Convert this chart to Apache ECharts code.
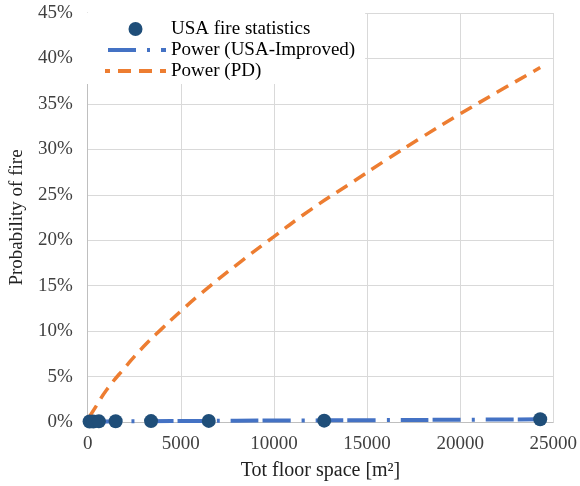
<!DOCTYPE html>
<html>
<head>
<meta charset="utf-8">
<script src="https://cdn.jsdelivr.net/npm/echarts@6/dist/echarts.min.js"></script>
<style>
  html, body { margin: 0; padding: 0; background: #fff; }
  #chart { width: 580px; height: 486px; }
</style>
</head>
<body>
<div id="chart"></div>
<script>
// USA fire statistics (floor space m2, probability %)
const usaFloor = [100, 300, 600, 1500, 3400, 6500, 12700, 24300]
const usaProb = [0.05, 0.06, 0.07, 0.08, 0.1, 0.12, 0.15, 0.3]

// Power fit (USA-Improved)
const improvedFloor = [100, 1000, 3000, 6000, 10000, 15000, 20000, 24300]
const improvedProb = [0.03, 0.06, 0.09, 0.12, 0.16, 0.2, 0.25, 0.3]

// Power fit (PD)
const pdFloor = [100, 500, 1000, 2000, 3000, 4000, 5000, 6000, 8000, 10000, 12000, 14000, 16000, 18000, 20000, 22000, 24300]
const pdProb = [0.6, 1.9, 3.5, 6.0, 8.3, 10.3, 12.2, 14.0, 17.3, 20.4, 23.4, 26.1, 28.8, 31.4, 33.9, 36.3, 39.0]

const FONT = 'Liberation Serif'
const textColor = '#404040'

const chart = echarts.init(document.getElementById('chart'))

chart.setOption({
    animation: false,
    textStyle: { fontFamily: FONT },
    grid: {
        left: 87,
        right: 25,
        top: 13,
        bottom: 62,
    },
    legend: {
        orient: 'vertical',
        left: 87,
        top: 13,
        padding: [6, 10, 3, 16],
        backgroundColor: '#ffffff',
        itemWidth: 61,
        itemHeight: 14,
        itemGap: 1,
        textStyle: {
            fontFamily: FONT,
            fontSize: 19,
            lineHeight: 20,
            color: '#000',
        },
        data: [
            { name: 'USA fire statistics' },
            { name: 'Power (USA-Improved)', itemStyle: { opacity: 0 }, lineStyle: { width: 4 } },
            { name: 'Power (PD)', itemStyle: { opacity: 0 }, lineStyle: { width: 4 } },
        ],
    },
    xAxis: {
        type: 'value',
        min: 0,
        max: 25000,
        interval: 5000,
        name: 'Tot floor space [m²]',
        nameLocation: 'middle',
        nameGap: 39,
        nameTextStyle: { fontFamily: FONT, fontSize: 20, color: '#222' },
        axisLine: { lineStyle: { color: '#bfbfbf', width: 1 } },
        axisTick: { show: false },
        axisLabel: { fontFamily: FONT, fontSize: 19, color: textColor, margin: 13, formatter: v => String(v) },
        splitLine: { lineStyle: { color: '#d9d9d9', width: 1 } },
    },
    yAxis: {
        type: 'value',
        min: 0,
        max: 45,
        interval: 5,
        name: 'Probability of fire',
        nameLocation: 'middle',
        nameGap: 52,
        nameTextStyle: { fontFamily: FONT, fontSize: 19, color: '#222' },
        axisLine: { show: true, lineStyle: { color: '#bfbfbf', width: 1 } },
        axisTick: { show: false },
        axisLabel: { fontFamily: FONT, fontSize: 19, color: textColor, margin: 15, formatter: '{value}%' },
        splitLine: { lineStyle: { color: '#d9d9d9', width: 1 } },
    },
    series: [
        {
            name: 'Power (PD)',
            type: 'line',
            smooth: true,
            showSymbol: false,
            symbol: 'none',
            data: pdFloor.map((x, i) => [x, pdProb[i]]),
            lineStyle: { color: '#ed7d31', width: 3.5, type: [13, 8] },
            itemStyle: { color: '#ed7d31' },
            z: 2,
        },
        {
            name: 'Power (USA-Improved)',
            type: 'line',
            smooth: true,
            showSymbol: false,
            symbol: 'none',
            data: improvedFloor.map((x, i) => [x, improvedProb[i]]),
            lineStyle: { color: '#4472c4', width: 4, type: [28, 4, 28, 11, 3, 11], dashOffset: 29 },
            itemStyle: { color: '#4472c4' },
            z: 3,
        },
        {
            name: 'USA fire statistics',
            type: 'scatter',
            symbol: 'circle',
            symbolSize: 14,
            data: usaFloor.map((x, i) => [x, usaProb[i]]),
            itemStyle: { color: '#1f4e79', opacity: 1 },
            z: 4,
        },
    ],
})
</script>
</body>
</html>
